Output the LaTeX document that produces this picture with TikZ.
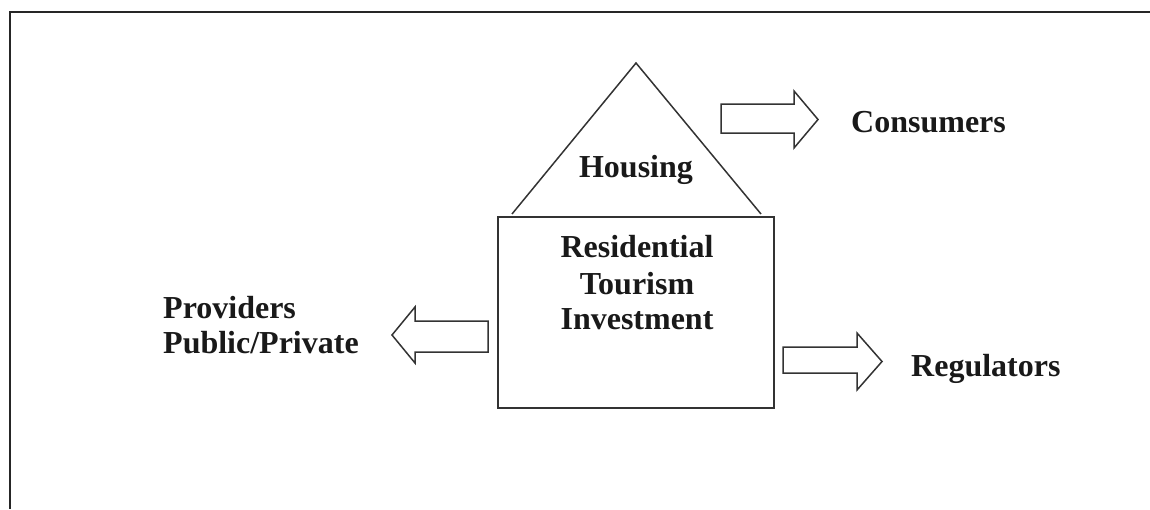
\documentclass[tikz,border=0pt]{standalone}
\usepackage{fontspec}
\setmainfont{Liberation Serif}
\begin{document}
\begin{tikzpicture}[x=1pt,y=-1pt,
  frame/.style={draw=black!85, line width=2.6pt},
  outline/.style={draw=black!80, line width=1.5pt, line join=miter},
  label/.style={font=\fontsize{32}{36}\selectfont\bfseries, text=black!90, inner sep=0pt},
  stacked/.style={label, align=center, anchor=base}]
  \useasboundingbox (0,0) rectangle (1150,509);

  % open frame: top and left edges only
  \draw[frame] (1150,12) -- (10,12) -- (10,509);

  % the house: roof over a square body
  \node[outline, draw, minimum width=276pt, minimum height=191pt, inner sep=0pt]
    (body) at (636,312.5) {};
  \coordinate (roofL) at (512,214);
  \coordinate (apex) at (636,63);
  \coordinate (roofR) at (761,214);
  \draw[outline] (roofL) -- (apex) -- (roofR);

  \node[label, anchor=base] (housing) at (636,177) {Housing};
  \node[label, anchor=base] (res) at (637,257) {Residential};
  \node[label, anchor=base] (tour) at (637,294) {Tourism};
  \node[label, anchor=base] (inv) at (637,329) {Investment};

  % block arrows
  \draw[outline] (721,104) -- (794,104) -- (794,91) -- (818,119.5)
    -- (794,148) -- (794,133) -- (721,133) -- cycle;
  \draw[outline] (488,321) -- (415,321) -- (415,307) -- (392,335)
    -- (415,363) -- (415,352) -- (488,352) -- cycle;
  \draw[outline] (783,347) -- (857,347) -- (857,333) -- (882,361.5)
    -- (857,390) -- (857,373) -- (783,373) -- cycle;

  % outside parties
  \node[label, anchor=base west] (cons) at (851,132) {Consumers};
  \node[label, anchor=base west] (prov) at (163,318) {Providers};
  \node[label, anchor=base west] (pubpriv) at (163,353) {Public/Private};
  \node[label, anchor=base west] (reg) at (911,376) {Regulators};
\end{tikzpicture}
\end{document}
